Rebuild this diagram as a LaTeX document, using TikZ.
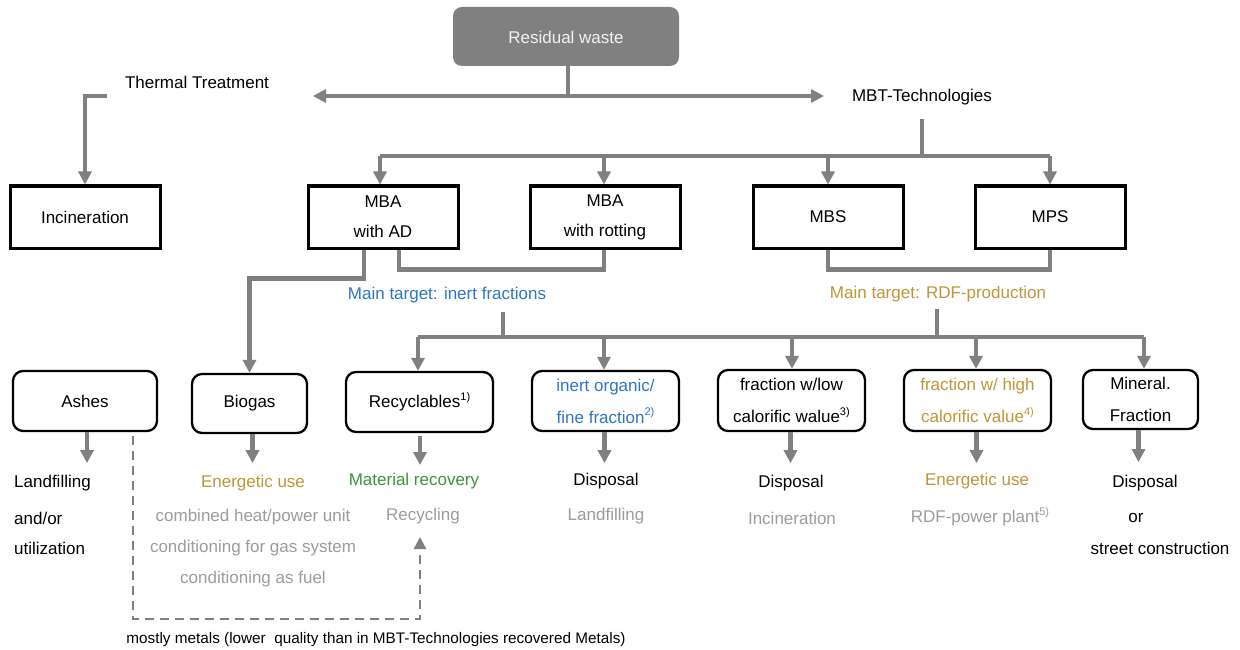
\documentclass[tikz,border=0pt]{standalone}
\usepackage{fontspec}
\setmainfont{Liberation Sans}
\usetikzlibrary{arrows.meta}
\definecolor{lgray}{HTML}{808080}
\definecolor{tgray}{HTML}{9C9C9C}
\definecolor{tblue}{HTML}{2E76C2}
\definecolor{tgold}{HTML}{BF9538}
\definecolor{tgreen}{HTML}{3B943B}
\newcommand\supx[1]{\raisebox{0.8ex}{\fontsize{11}{11}\selectfont #1}}
\tikzset{
  conn/.style={draw=lgray, line width=4.2pt},
  arr/.style={conn, -{Triangle[width=13pt,length=13pt]}},
  dblarr/.style={conn, {Triangle[width=13pt,length=13pt]}-{Triangle[width=13pt,length=13pt]}},
  dasharr/.style={draw=lgray, line width=2.5pt, dash pattern=on 9pt off 6pt, -{Triangle[width=12pt,length=12pt]}},
  txt/.style={font=\fontsize{17}{20}\selectfont, inner sep=0pt},
  sqbox/.style={draw=black, line width=3pt, minimum width=150pt, minimum height=62pt, align=center, font=\fontsize{17}{30}\selectfont, inner sep=0pt},
  rbox/.style={draw=black, line width=2.3pt, rounded corners=10pt, minimum width=147pt, minimum height=60pt, align=center, font=\fontsize{17}{32}\selectfont, inner sep=0pt},
}
\begin{document}
\begin{tikzpicture}[x=1pt,y=-1pt]
\useasboundingbox (0,0) rectangle (1240,650);
% top
\node[fill=lgray, rounded corners=9pt, minimum width=226pt, minimum height=59pt, text=white!95!black, txt] (rw) at (566,36.5) {\raisebox{-7.5pt}[0pt][0pt]{Residual waste}};
\node[txt] (tt) at (197,82) {Thermal Treatment};
\node[txt] (mbt) at (922,97) {MBT-Technologies};
\coordinate (rwj) at (568,96);
\coordinate (tl) at (313,96);
\coordinate (tr) at (824,96);
\draw[conn] (rw.south -| rwj) -- (rwj);
\draw[dblarr] (tl) -- (tr);
% second row boxes
\node[sqbox] (inc) at (85,217) {Incineration};
\node[sqbox] (mbaad) at (383,217) {MBA\\with AD};
\node[sqbox] (mbarot) at (605,217) {MBA\\with rotting};
\node[sqbox] (mbs) at (828,217) {MBS};
\node[sqbox] (mps) at (1050,217) {MPS};
% thermal connector
\coordinate (ttj) at (107,96);
\draw[arr] (ttj) -| (inc.north);
% MBT connector
\coordinate (mbtj) at (922,156);
\draw[conn] (mbt.south |- 0,119) -- (mbtj);
\draw[conn] (380,156) -- (1050,156);
\draw[arr] (380,156) -- (380,156 |- mbaad.north);
\draw[arr] (604,156) -- (604,156 |- mbarot.north);
\draw[arr] (mbs.north |- mbtj) -- (mbs.north);
\draw[arr] (mps.north |- mbtj) -- (mps.north);
% third row boxes
\node[rbox, minimum width=144pt] (ashes) at (85,401) {Ashes};
\node[rbox, minimum width=115pt, minimum height=59pt] (biogas) at (249.5,403.5) {Biogas};
\node[rbox] (recyc) at (419.5,402) {Recyclables\supx{1)}};
\node[rbox, text=tblue] (inert) at (605.5,401) {inert organic/\\fine fraction\supx{2)}};
\node[rbox, minimum height=61pt] (flow) at (791.5,400.5) {fraction w/low\\calorific walue\supx{3)}};
\node[rbox, minimum height=61pt, text=tgold] (fhigh) at (977.5,400.5) {fraction w/ high\\calorific value\supx{4)}};
\node[rbox, minimum width=115pt, minimum height=59pt] (mineral) at (1140.5,399.5) {Mineral.\\Fraction};
% MBA connectors
\draw[arr] ([xshift=-19pt]mbaad.south) -- ++(0,29) -| (biogas.north);
\draw[conn] ([xshift=16pt]mbaad.south) -- ++(0,20) -| ([xshift=-1pt]mbarot.south);
\draw[conn] (mbs.south) -- ++(0,20) -| (mps.south);
\node[txt, text=tblue] (mti) at (447,295) {Main target: inert fractions};
\node[txt, text=tgold] (mtr) at (938,294) {Main target: RDF-production};
\coordinate (lj) at (418,337);
\coordinate (rj) at (1144,337);
\draw[conn] (503,312) -- (503,337);
\draw[conn] (937,309) -- (937,337);
\draw[conn] (lj) -- (rj);
\draw[arr] (lj) -- (lj |- recyc.north);
\draw[arr] (604,337) -- (604,337 |- inert.north);
\draw[arr] (792,337) -- (792,337 |- flow.north);
\draw[arr] (976,337) -- (976,337 |- fhigh.north);
\draw[arr] (rj) -- (rj |- mineral.north);
% arrows below boxes
\draw[arr] ([xshift=2pt]ashes.south) -- ++(0,31);
\draw[arr] ([xshift=3pt]biogas.south) -- ++(0,29);
\draw[arr] (420,436) -- (420,465);
\draw[arr] ([xshift=-1pt]inert.south) -- ++(0,31);
\draw[arr] ([xshift=-1pt]flow.south) -- ++(0,31);
\draw[arr] ([xshift=-1pt]fhigh.south) -- ++(0,31);
\draw[arr] ([xshift=-2pt]mineral.south) -- ++(0,32);
% output texts
\node[txt, anchor=west] (a1) at (14,483) {Landfilling};
\node[txt, anchor=west] (a2) at (14,518) {and/or};
\node[txt, anchor=west] (a3) at (14,548) {utilization};
\node[txt, text=tgold] (b1) at (253,483) {Energetic use};
\node[txt, text=tgray] (b2) at (253,517) {combined heat/power unit};
\node[txt, text=tgray] (b3) at (253,548) {conditioning for gas system};
\node[txt, text=tgray] (b4) at (253,579) {conditioning as fuel};
\node[txt, text=tgreen] (c1) at (414,481) {Material recovery};
\node[txt, text=tgray] (c2) at (423,516) {Recycling};
\node[txt] (d1) at (606,481) {Disposal};
\node[txt, text=tgray] (d2) at (606,516) {Landfilling};
\node[txt] (e1) at (791,483) {Disposal};
\node[txt, text=tgray] (e2) at (792,518) {Incineration};
\node[txt, text=tgold] (f1) at (977,481) {Energetic use};
\node[txt, text=tgray] (f2) at (980,517) {RDF-power plant\supx{5)}};
\node[txt] (g1) at (1145,483) {Disposal};
\node[txt] (g2) at (1136,518) {or};
\node[txt] (g3) at (1160,548) {street construction};
% dashed metals connector
\coordinate (dm1) at (133,436);
\coordinate (dm2) at (133,619);
\coordinate (dm3) at (420,537);
\draw[dasharr] (dm1) -- (dm2) -| (dm3);
\node[font=\fontsize{15.3}{18}\selectfont, inner sep=0pt] (note) at (376,640) {mostly metals (lower\ \ quality than in MBT-Technologies recovered Metals)};
\end{tikzpicture}
\end{document}
